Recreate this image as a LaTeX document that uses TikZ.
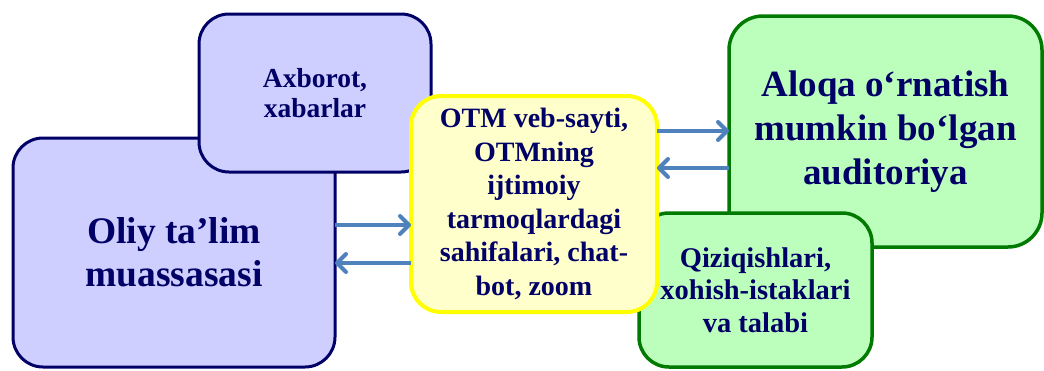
\documentclass[tikz,border=0pt]{standalone}
\usepackage{fontspec}
\setmainfont{Liberation Serif}
\usetikzlibrary{arrows.meta}
\definecolor{navy}{HTML}{000066}
\definecolor{lavender}{HTML}{CFCFFF}
\definecolor{paleyellow}{HTML}{FFFFCC}
\definecolor{brightyellow}{HTML}{FFFF00}
\definecolor{palegreen}{HTML}{BCFFBC}
\definecolor{darkgreen}{HTML}{007A00}
\definecolor{linkblue}{HTML}{4F81BD}
\tikzset{
  card/.style={rectangle, rounded corners=30pt, outer sep=0pt, inner sep=0pt,
    align=center, text=navy},
  bluecard/.style={card, draw=navy, fill=lavender, line width=3pt},
  yellowcard/.style={card, draw=brightyellow, fill=paleyellow, line width=4pt},
  greencard/.style={card, draw=darkgreen, fill=palegreen, line width=3.5pt},
  link/.style={draw=linkblue, line width=4pt,
    -{Straight Barb[length=9pt,width=18pt,round]}},
}
\begin{document}
\begin{tikzpicture}[x=1pt,y=-1pt]
  \useasboundingbox (0,0) rectangle (1044,370);

  % institution and its outgoing information
  \node[bluecard, minimum width=322pt, minimum height=229pt,
        font=\bfseries\fontsize{37.5}{43}\selectfont] (oliy) at (174,252.5)
    {Oliy ta’lim\\muassasasi};
  \node[bluecard, minimum width=232pt, minimum height=158pt,
        font=\bfseries\fontsize{27.5}{30}\selectfont] (axb) at (315,93)
    {Axborot,\\xabarlar};

  % audience and its interests
  \node[greencard, rounded corners=34pt, minimum width=313pt, minimum height=231pt,
        font=\bfseries\fontsize{37}{44}\selectfont] (aloqa) at (885.5,131.5)
    {Aloqa o‘rnatish\\mumkin bo‘lgan\\auditoriya};
  \node[greencard, minimum width=233pt, minimum height=154pt,
        font=\bfseries\fontsize{28.5}{32.5}\selectfont] (qiz) at (755.5,290)
    {Qiziqishlari,\\xohish-istaklari\\va talabi};

  % communication channels in the middle
  \node[yellowcard, minimum width=246pt, minimum height=216pt,
        font=\bfseries\fontsize{28}{33.6}\selectfont] (otm) at (534,204)
    {OTM veb-sayti,\\OTMning\\ijtimoiy\\tarmoqlardagi\\sahifalari, chat-\\bot, zoom};

  % two-way links
  \draw[link] (oliy.east |- 0,225) -- (otm.west |- 0,225);
  \draw[link] (otm.west |- 0,263) -- (oliy.east |- 0,263);
  \draw[link] (otm.east |- 0,131) -- (aloqa.west |- 0,131);
  \draw[link] (aloqa.west |- 0,168) -- (otm.east |- 0,168);
\end{tikzpicture}
\end{document}
